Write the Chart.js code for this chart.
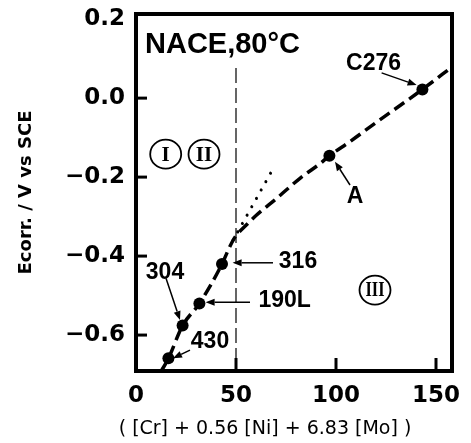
<!DOCTYPE html>
<html><head><meta charset="utf-8">
<script src="https://cdn.jsdelivr.net/npm/chart.js@4"></script>
<style>html,body{margin:0;padding:0;background:#fff}#wrap{width:471px;height:443px;position:relative}</style>
</head><body><div id="wrap"><canvas id="c"></canvas></div>
<script>
// ---- data ----
const alloyNames = ["430", "304", "190L", "316", "A", "C276"];
const alloyX = [16.2, 23.3, 31.7, 43, 96.7, 143.2];
const alloyEcorr = [-0.659, -0.576, -0.52, -0.42, -0.146, 0.022];

const curveX = [12.2, 16.2, 23.3, 31.7, 43, 47, 49.5, 55, 60.3, 70.3, 82, 92, 96.7, 107, 120, 143.2, 158];
const curveY = [-0.695, -0.659, -0.576, -0.52, -0.42, -0.375, -0.352, -0.322, -0.296, -0.254, -0.203, -0.166, -0.146, -0.11, -0.062, 0.022, 0.079];

const dottedX = [48.5, 67.3];
const dottedY = [-0.36, -0.19];

const boundaryX = [50, 50];
const boundaryY = [0.076, -0.70];

const xTicks = [0, 50, 100, 150];
const yTicks = [0.2, 0, -0.2, -0.4, -0.6];

const annoText = ["C276", "A", "316", "190L", "304", "430"];
const annoX = [118.8, 109.5, 81, 74.3, 14.5, 37];
const annoY = [0.087, -0.25, -0.414, -0.514, -0.443, -0.617];
const arrowFromX = [122.8, 107, 68.5, 57, 15, 27];
const arrowFromY = [0.064, -0.22, -0.417, -0.517, -0.456, -0.638];
const arrowToX = [140.3, 99.5, 48.3, 34.8, 22, 18.5];
const arrowToY = [0.033, -0.161, -0.417, -0.517, -0.562, -0.659];

const regionText = ["I", "II", "III"];
const regionX = [14.85, 34, 119.5];
const regionY = [-0.142, -0.142, -0.486];

const headerText = "NACE,80°C";
const headerX = 4.5;
const headerY = 0.114;

const xTitle = "( [Cr] + 0.56 [Ni] + 6.83 [Mo] )";
const yTitle = "Ecorr. / V vs SCE";

const toPts = (xs, ys) => xs.map((v, i) => ({x: v, y: ys[i]}));

const annotPlugin = {
  id: 'annot',
  afterDatasetsDraw(chart) {
    const {ctx, scales: {x, y}, chartArea: a} = chart;
    ctx.save();
    ctx.fillStyle = '#000';
    ctx.strokeStyle = '#000';
    // labels
    ctx.font = 'bold 23px "Liberation Sans", Arial, sans-serif';
    ctx.textAlign = 'center';
    ctx.textBaseline = 'middle';
    annoText.forEach((t, i) => ctx.fillText(t, x.getPixelForValue(annoX[i]), y.getPixelForValue(annoY[i])));
    // arrows
    ctx.lineWidth = 1.5;
    annoText.forEach((t, i) => {
      const x0 = x.getPixelForValue(arrowFromX[i]), y0 = y.getPixelForValue(arrowFromY[i]);
      const x1 = x.getPixelForValue(arrowToX[i]), y1 = y.getPixelForValue(arrowToY[i]);
      const ang = Math.atan2(y1 - y0, x1 - x0);
      const hl = 9, hw = 3.5;
      const bx = x1 - hl * Math.cos(ang), by = y1 - hl * Math.sin(ang);
      ctx.beginPath(); ctx.moveTo(x0, y0); ctx.lineTo(bx, by); ctx.stroke();
      ctx.beginPath();
      ctx.moveTo(x1, y1);
      ctx.lineTo(bx + hw * Math.sin(ang), by - hw * Math.cos(ang));
      ctx.lineTo(bx - hw * Math.sin(ang), by + hw * Math.cos(ang));
      ctx.closePath(); ctx.fill();
    });
    // region circles
    ctx.lineWidth = 1.8;
    ctx.font = 'bold 21px "Liberation Serif", serif';
    regionText.forEach((t, i) => {
      const cx = x.getPixelForValue(regionX[i]), cy = y.getPixelForValue(regionY[i]);
      ctx.beginPath(); ctx.ellipse(cx, cy, 15.5, 14.5, 0, 0, Math.PI * 2); ctx.stroke();
      ctx.fillText(t, cx, cy + 1, 19);
    });
    // header
    ctx.font = 'bold 29px "Liberation Sans", Arial, sans-serif';
    ctx.textAlign = 'left';
    ctx.textBaseline = 'alphabetic';
    ctx.fillText(headerText, x.getPixelForValue(headerX), y.getPixelForValue(headerY));
    ctx.restore();
  },
  afterDraw(chart) {
    const {ctx, scales: {x, y}, chartArea: a} = chart;
    ctx.save();
    ctx.strokeStyle = '#000';
    // inner ticks
    ctx.lineWidth = 3;
    x.ticks.forEach(t => {
      const px = x.getPixelForValue(t.value);
      if (px - a.left < 6 || a.right - px < 6) return;
      ctx.beginPath(); ctx.moveTo(px, a.bottom); ctx.lineTo(px, a.bottom - 13); ctx.stroke();
    });
    y.ticks.forEach(t => {
      const py = y.getPixelForValue(t.value);
      if (py - a.top < 7 || a.bottom - py < 6) return;
      ctx.beginPath(); ctx.moveTo(a.left, py); ctx.lineTo(a.left + 11, py); ctx.stroke();
    });
    // frame
    ctx.lineWidth = 4;
    ctx.strokeRect(a.left, a.top, a.right - a.left, a.bottom - a.top);
    // x title
    ctx.fillStyle = '#000';
    ctx.font = '19px "DejaVu Sans", sans-serif';
    ctx.textAlign = 'center';
    ctx.textBaseline = 'middle';
    ctx.fillText(xTitle, (a.left + a.right) / 2 - 29, a.bottom + 58);
    ctx.restore();
  }
};

new Chart(document.getElementById('c'), {
  type: 'scatter',
  data: {
    datasets: [
      {label: 'Alloys', data: toPts(alloyX, alloyEcorr), pointRadius: 6, pointBackgroundColor: '#000', pointBorderColor: '#000', pointBorderWidth: 0, showLine: false, clip: false},
      {label: 'Trend', data: toPts(curveX, curveY), showLine: true, clip: 0, borderColor: '#000', borderWidth: 3.5, borderDash: [12, 6], pointRadius: 0, cubicInterpolationMode: 'monotone', fill: false},
      {label: 'Dotted', data: toPts(dottedX, dottedY), showLine: true, clip: 0, borderColor: '#000', borderWidth: 3, borderDash: [0.1, 9.5], borderCapStyle: 'round', pointRadius: 0, fill: false},
      {label: 'Boundary', data: toPts(boundaryX, boundaryY), showLine: true, clip: 0, borderColor: '#000', borderWidth: 1.2, borderDash: [15, 5], pointRadius: 0, fill: false}
    ]
  },
  options: {
    responsive: true, maintainAspectRatio: false, animation: false,
    layout: {padding: {left: 0, right: 19, top: 14, bottom: 0}},
    plugins: {legend: {display: false}, tooltip: {enabled: false}},
    scales: {
      x: {
        type: 'linear', min: 0, max: 158,
        grid: {display: false, drawTicks: false}, border: {display: false},
        afterBuildTicks: s => { s.ticks = xTicks.map(v => ({value: v})); },
        afterFit: s => { s.height = 72; s.paddingLeft = 0; s.paddingRight = 0; },
        ticks: {padding: 11, color: '#000', autoSkip: false, maxRotation: 0,
          font: {family: '"DejaVu Sans", sans-serif', weight: 'bold', size: 23},
          callback: v => String(v)}
      },
      y: {
        type: 'linear', min: -0.691, max: 0.213,
        grid: {display: false, drawTicks: false}, border: {display: false},
        afterBuildTicks: s => { s.ticks = yTicks.map(v => ({value: v})); },
        afterFit: s => { s.width = 136; s.paddingTop = 0; s.paddingBottom = 0; },
        ticks: {padding: 11, color: '#000', autoSkip: false,
          font: {family: '"DejaVu Sans", sans-serif', weight: 'bold', size: 23},
          callback: v => (v < 0 ? '\u2212' : '') + Math.abs(v).toFixed(1)},
        title: {display: true, text: yTitle, color: '#000', padding: {top: 16, bottom: 0},
          font: {family: '"DejaVu Sans", sans-serif', weight: 'bold', size: 18}}
      }
    }
  },
  plugins: [annotPlugin]
});
</script>
</body></html>
